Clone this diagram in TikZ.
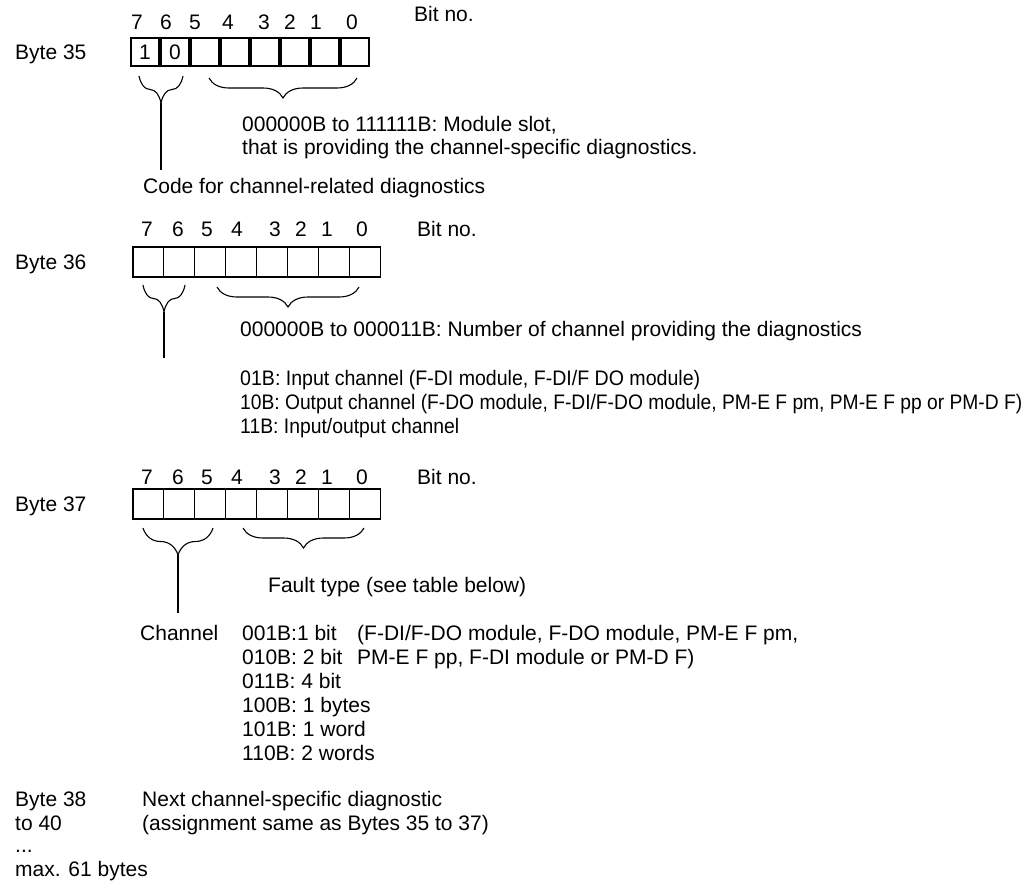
\documentclass[tikz,border=0pt]{standalone}
\usepackage{fontspec}
\usepackage{graphicx}
\setmainfont{Liberation Sans}
\usetikzlibrary{decorations.pathreplacing}
\begin{document}
\begin{tikzpicture}[x=1pt,y=-1pt,
  txt/.style={anchor=base west, inner sep=0pt, font=\fontsize{21}{24}\selectfont},
  dig/.style={anchor=base, inner sep=0pt, font=\fontsize{21}{24}\selectfont},
  cellA/.style={draw, line width=1.1pt, minimum width=28pt, minimum height=28pt, inner sep=0pt, font=\fontsize{21}{24}\selectfont},
  cellB/.style={draw, line width=1.1pt, minimum width=30.9pt, minimum height=30pt, inner sep=0pt},
  brc/.style={decorate, decoration={brace, mirror, amplitude=#1}, line width=1.1pt},
  ln/.style={line width=1.1pt}]
\useasboundingbox (0,0) rectangle (1024,886);

% ---------- Byte 35 ----------
\foreach \d/\x [count=\k] in {7/137,6/166,5/195,4/228,3/264,2/290,1/316,0/352}
  \node[dig] (n1-\k) at (\x,29.5) {\d};
\node[txt] (bit1) at (414,21.5) {Bit no.};
\node[txt] (byte35) at (15,59.5) {Byte 35};
\node[cellA] (r1c1) at (145,52) {1};
\node[cellA] (r1c2) at (175,52) {0};
\foreach \i in {3,...,8}
  \node[cellA] (r1c\i) at ({145+30*(\i-1)},52) {};
\coordinate (b1a) at (139,76);  \coordinate (b1b) at (183,76);
\coordinate (b1c) at (209,78);  \coordinate (b1d) at (357,78);
\draw[brc=27] (b1a) -- (b1b);
\draw[brc=20] (b1c) -- (b1d);
\coordinate (t1) at (161,103); \coordinate (e1) at (161,170);
\draw[ln] (t1) -- (e1);
\node[txt] (mod1) at (242,131.5) {000000B to 111111B: Module slot,};
\node[txt] (mod2) at (242,154.5) {that is providing the channel-specific diagnostics.};
\node[txt] (code) at (143,193.5) {Code for channel-related diagnostics};

% ---------- Byte 36 ----------
\foreach \d/\x [count=\k] in {7/147,6/178,5/207,4/237,3/275,2/301,1/327,0/362}
  \node[dig] (n2-\k) at (\x,236.5) {\d};
\node[txt] (bit2) at (417,236.5) {Bit no.};
\node[txt] (byte36) at (15,269.5) {Byte 36};
\foreach \i in {1,...,8}
  \node[cellB] (r2c\i) at ({148.45+30.9*(\i-1)},262) {};
\coordinate (b2a) at (143,285);  \coordinate (b2b) at (185,285);
\coordinate (b2c) at (217,287);  \coordinate (b2d) at (359,287);
\draw[brc=27] (b2a) -- (b2b);
\draw[brc=20] (b2c) -- (b2d);
\coordinate (t2) at (164,312); \coordinate (e2) at (164,358);
\draw[ln] (t2) -- (e2);
\node[txt] (num) at (240,336.5) {000000B to 000011B: Number of channel providing the diagnostics};
\node[txt] (in1) at (240,385.5) {\resizebox{460pt}{\height}{01B: Input channel (F-DI module, F-DI/F DO module)}};
\node[txt] (out1) at (240,409.5) {\resizebox{782pt}{\height}{10B: Output channel (F-DO module, F-DI/F-DO module, PM-E F pm, PM-E F pp or PM-D F)}};
\node[txt] (io1) at (240,433.5) {\resizebox{219pt}{\height}{11B: Input/output channel}};

% ---------- Byte 37 ----------
\foreach \d/\x [count=\k] in {7/147,6/178,5/207,4/237,3/275,2/301,1/327,0/362}
  \node[dig] (n3-\k) at (\x,484.5) {\d};
\node[txt] (bit3) at (417,484.5) {Bit no.};
\node[txt] (byte37) at (15,511.5) {Byte 37};
\foreach \i in {1,...,8}
  \node[cellB] (r3c\i) at ({148.45+30.9*(\i-1)},504) {};
\coordinate (b3a) at (143,528);  \coordinate (b3b) at (213,528);
\coordinate (b3c) at (243,528);  \coordinate (b3d) at (364,528);
\draw[brc=27] (b3a) -- (b3b);
\draw[brc=20] (b3c) -- (b3d);
\coordinate (t3) at (178,555); \coordinate (e3) at (178,613);
\draw[ln] (t3) -- (e3);
\node[txt] (fault) at (268,592.5) {Fault type (see table below)};
\node[txt] (chan) at (140,640.5) {Channel};
\node[txt] (f1) at (242,640.5) {001B:1 bit};
\node[txt] (f2) at (242,664.5) {010B: 2 bit};
\node[txt] (f3) at (242,688.5) {011B: 4 bit};
\node[txt] (f4) at (242,712.5) {100B: 1 bytes};
\node[txt] (f5) at (242,736.5) {101B: 1 word};
\node[txt] (f6) at (242,760.5) {110B: 2 words};
\node[txt] (m1) at (357,640.5) {(F-DI/F-DO module, F-DO module, PM-E F pm,};
\node[txt] (m2) at (357,664.5) {PM-E F pp, F-DI module or PM-D F)};

% ---------- Bytes 38 to 40 ----------
\node[txt] (byte38) at (15,806.5) {Byte 38};
\node[txt] (to40) at (15,830.5) {to 40};
\node[txt] (dots) at (15,852.5) {...};
\node[txt] (max) at (15,876.5) {max. 61 bytes};
\node[txt] (next1) at (142,806.5) {Next channel-specific diagnostic};
\node[txt] (next2) at (142,830.5) {(assignment same as Bytes 35 to 37)};
\end{tikzpicture}
\end{document}
